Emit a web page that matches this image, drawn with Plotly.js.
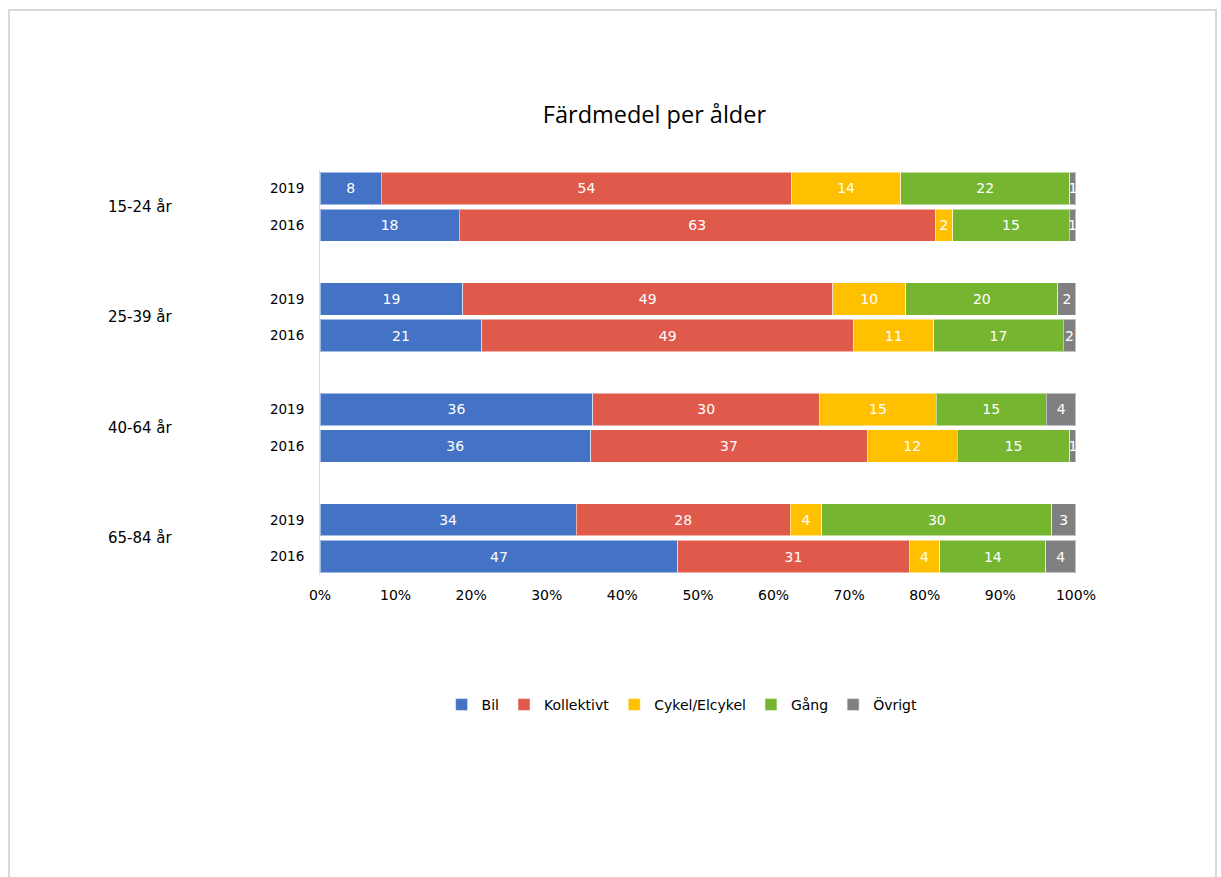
<!DOCTYPE html>
<html>
<head>
<meta charset="utf-8">
<script src="https://cdn.plot.ly/plotly-3.0.1.min.js"></script>
<style>
  html, body { margin: 0; padding: 0; background: #fff; }
  #frame { position: absolute; left: 8px; top: 9px; width: 1209px; height: 900px; border: 2px solid #d9d9d9; box-sizing: border-box; }
  #chart { position: absolute; left: 0; top: 0; width: 1221px; height: 877px; }
</style>
</head>
<body>
<div id="frame"></div>
<div id="chart"></div>
<script>
// Data
const groups = ["15-24 år", "25-39 år", "40-64 år", "65-84 år"];
const years = ["2019", "2016"];
const seriesNames = ["Bil", "Kollektivt", "Cykel/Elcykel", "Gång", "Övrigt"];
const colors = ["#4472C4", "#E05A4B", "#FFC000", "#76B52F", "#808080"];
// bar order: 15-24 2019, 15-24 2016, 25-39 2019, 25-39 2016, 40-64 2019, 40-64 2016, 65-84 2019, 65-84 2016
// (percent shares; labels show them rounded)
const bil         = [8.1, 18.4, 18.9, 21.4, 36.1, 35.8, 33.9, 47.4];
const kollektivt  = [54.3, 63.0, 48.9, 49.2, 30.0, 36.6, 28.3, 30.6];
const cykel       = [14.4, 2.3, 9.7, 10.6, 15.4, 11.9, 4.2, 4.1];
const gang        = [22.4, 15.4, 20.1, 17.1, 14.6, 14.9, 30.4, 14.0];
const ovrigt      = [0.8, 0.9, 2.4, 1.7, 3.9, 0.8, 3.2, 4.0];
const xTicks = [0, 10, 20, 30, 40, 50, 60, 70, 80, 90, 100];

const seriesValues = [bil, kollektivt, cykel, gang, ovrigt];

// positions: each group occupies 3 slots (2 bars + spacer)
const pos = [], tickText = [];
groups.forEach((g, gi) => years.forEach((y, yi) => { pos.push(gi * 3 + yi); tickText.push(y); }));

const font = "DejaVu Sans, Verdana, sans-serif";

const traces = seriesNames.map((name, i) => ({
  type: "bar",
  orientation: "h",
  name: name,
  x: seriesValues[i],
  y: pos,
  text: seriesValues[i].map(v => String(Math.round(v))),
  textposition: "inside",
  insidetextanchor: "middle",
  textangle: 0,
  constraintext: "none",
  textfont: { color: "#ffffff", size: 14, family: font },
  marker: { color: colors[i], line: { color: "rgba(255,255,255,0.5)", width: 1 } },
  hoverinfo: "skip",
  cliponaxis: false
}));

const annotations = groups.map((g, gi) => ({
  text: g,
  xref: "paper", x: -0.238, xanchor: "center",
  yref: "y", y: gi * 3 + 0.5, yanchor: "middle",
  showarrow: false,
  font: { family: font, size: 15, color: "#000" }
}));

const layout = {
  width: 1221, height: 877,
  paper_bgcolor: "rgba(0,0,0,0)",
  plot_bgcolor: "rgba(0,0,0,0)",
  margin: { l: 320, r: 145, t: 170, b: 302 },
  barmode: "stack",
  barnorm: "percent",
  bargap: 0.12,
  title: {
    text: "Färdmedel per ålder",
    font: { family: "Open Sans, sans-serif", size: 23.5, color: "#000" },
    xref: "container", x: 0.536, xanchor: "center",
    yref: "container", y: 1 - 115 / 877, yanchor: "middle"
  },
  xaxis: {
    range: [0, 100.01],
    tickvals: xTicks,
    ticktext: xTicks.map(v => v + "%"),
    showgrid: false,
    zeroline: false,
    showline: false,
    ticks: "",
    tickfont: { family: font, size: 14, color: "#000" },
    ticklabelstandoff: 10,
    fixedrange: true
  },
  yaxis: {
    range: [10.5, -0.5],
    tickvals: pos,
    ticktext: tickText,
    showgrid: false,
    zeroline: false,
    showline: true,
    linecolor: "#d9d9d9",
    linewidth: 1,
    ticks: "",
    tickfont: { family: font, size: 13.5, color: "#000" },
    ticklabelstandoff: 12,
    fixedrange: true
  },
  legend: {
    orientation: "h",
    traceorder: "normal",
    xref: "paper", x: 0.479, xanchor: "center",
    yref: "paper", y: -0.321, yanchor: "middle",
    font: { family: font, size: 14, color: "#000" },
    itemwidth: 30
  },
  annotations: annotations,
  showlegend: true
};

Plotly.newPlot("chart", traces, layout, { displayModeBar: false, staticPlot: true });
</script>
</body>
</html>
